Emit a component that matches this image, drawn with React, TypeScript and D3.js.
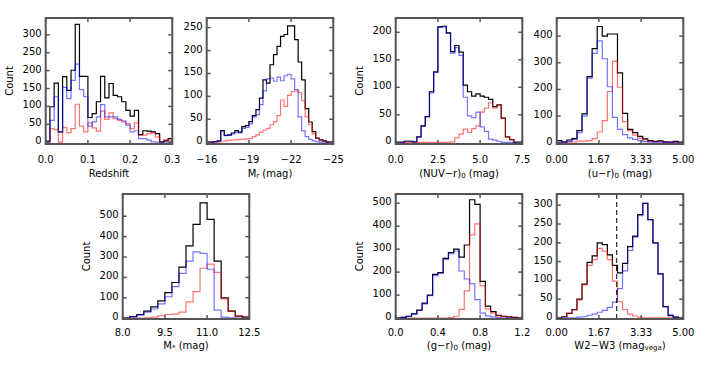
import React from 'react';
import * as d3 from 'd3';

// ---------- DATA ----------
// Panel 1: Redshift (bins of 0.01 from 0.0)
const zAll = [3, 99, 165, 29, 183, 145, 201, 329, 184, 184, 69, 80, 113, 184, 124, 164, 131, 127, 113, 89, 73, 89, 21, 32, 31, 29, 24, 1, 4, 10];
const zBlue = [1, 61, 127, 29, 153, 122, 173, 218, 147, 127, 45, 57, 71, 105, 71, 71, 71, 64, 60, 48, 29, 32, 10, 10, 6, 1, 0, 0, 0, 0];
const zRed = [0, 38, 35, 0, 41, 27, 38, 106, 45, 29, 54, 40, 31, 87, 64, 82, 66, 61, 57, 52, 38, 54, 20, 20, 24, 26, 15, 1, 7, 6];
const zTicks = [0, 0.1, 0.2, 0.3];
const zTickLabels = ['0.0', '0.1', '0.2', '0.3'];

// Panel 2: M_r (bins of 0.25 mag from -16 towards -25)
const mrAll = [0, 0, 1, 3, 25, 15, 16, 20, 25, 22, 34, 36, 45, 58, 71, 96, 136, 129, 169, 191, 209, 231, 235, 254, 254, 224, 175, 136, 73, 44, 23, 9, 5, 3, 0, 0];
const mrBlue = [0, 0, 1, 3, 24, 14, 15, 18, 22, 20, 30, 32, 40, 55, 60, 82, 112, 138, 140, 133, 142, 134, 145, 148, 138, 115, 55, 25, 12, 6, 3, 1, 0, 0, 0, 0];
const mrRed = [0, 0, 0, 0, 2, 3, 4, 5, 5, 6, 6, 7, 8, 12, 16, 22, 26, 30, 38, 45, 58, 92, 78, 102, 110, 112, 108, 90, 55, 38, 18, 8, 4, 2, 1, 0];
const mrTicks = [-16, -19, -22, -25];
const mrTickLabels = ['\u221216', '\u221219', '\u221222', '\u221225'];

// Panel 3: (NUV-r)_0 (bins of 0.25 mag)
const nuvAll = [0, 0, 2, 2, 1, 10, 30, 47, 92, 128, 210, 211, 199, 165, 176, 164, 104, 92, 84, 88, 84, 82, 78, 65, 68, 44, 10, 5, 0, 0];
const nuvBlue = [0, 0, 2, 2, 1, 10, 29, 46, 90, 127, 209, 210, 198, 162, 172, 158, 82, 48, 45, 55, 28, 20, 6, 4, 2, 0, 0, 0, 0, 0];
const nuvRed = [0, 0, 0, 0, 0, 0, 0, 0, 0, 0, 0, 0, 0, 1, 8, 15, 24, 18, 25, 30, 55, 62, 72, 62, 67, 44, 10, 5, 0, 0];
const nuvTicks = [0, 2.5, 5, 7.5];
const nuvTickLabels = ['0.0', '2.5', '5.0', '7.5'];

// Panel 4: (u-r)_0 (bins of 0.2 mag)
const urAll = [8, 3, 10, 15, 45, 108, 248, 353, 436, 400, 408, 408, 262, 110, 50, 38, 24, 14, 8, 5, 7, 3, 2, 5, 2];
const urBlue = [2, 0, 5, 12, 38, 100, 242, 335, 382, 315, 210, 95, 50, 30, 18, 12, 8, 4, 2, 2, 2, 1, 1, 1, 0];
const urRed = [0, 0, 2, 3, 6, 6, 8, 15, 40, 83, 192, 305, 208, 79, 45, 28, 16, 10, 5, 3, 4, 2, 1, 3, 1];
const urTicks = [0, 5 / 3, 10 / 3, 5];
const urTickLabels = ['0.00', '1.67', '3.33', '5.00'];

// Panel 5: M* (bins of 0.25 from 8.0)
const msAll = [0, 8, 18, 35, 55, 85, 125, 175, 250, 355, 460, 565, 485, 280, 100, 35, 10, 5];
const msBlue = [0, 8, 15, 30, 45, 70, 105, 155, 220, 280, 325, 318, 240, 40, 5, 2, 1, 0];
const msRed = [0, 0, 1, 2, 5, 12, 18, 20, 30, 80, 130, 245, 265, 225, 95, 35, 10, 5];
const msTicks = [8, 9.5, 11, 12.5];
const msTickLabels = ['8.0', '9.5', '11.0', '12.5'];

// Panel 6: (g-r)_0 (bins of 0.05 mag)
const grAll = [0, 3, 8, 18, 35, 65, 100, 190, 198, 260, 285, 300, 265, 318, 515, 495, 160, 52, 28, 12, 8, 5, 3, 1];
const grBlue = [0, 3, 8, 18, 33, 62, 98, 185, 195, 255, 280, 292, 205, 170, 150, 80, 22, 10, 5, 2, 1, 0, 0, 0];
const grRed = [0, 0, 0, 0, 0, 0, 0, 0, 0, 0, 2, 8, 38, 118, 362, 410, 140, 40, 22, 10, 7, 5, 3, 1];
const grTicks = [0, 0.4, 0.8, 1.2];
const grTickLabels = ['0.0', '0.4', '0.8', '1.2'];

// Panel 7: W2-W3 (bins of 0.2 mag)
const wAll = [0, 3, 12, 22, 50, 90, 148, 165, 200, 195, 168, 140, 120, 145, 190, 218, 275, 305, 262, 200, 117, 30, 6, 2, 0];
const wBlue = [0, 0, 0, 0, 2, 3, 7, 10, 15, 20, 28, 42, 78, 125, 180, 215, 272, 305, 262, 200, 117, 30, 8, 2, 0];
const wRed = [0, 3, 12, 22, 48, 88, 140, 155, 185, 178, 155, 98, 43, 22, 10, 5, 2, 0, 0, 0, 0, 0, 0, 0, 0];
const wTicks = [0, 5 / 3, 10 / 3, 5];
const wTickLabels = ['0.00', '1.67', '3.33', '5.00'];
const wCut = 2.37;

const yTicks50_300 = [0, 50, 100, 150, 200, 250, 300];
const yTicks50_250 = [0, 50, 100, 150, 200, 250];
const yTicks50_200 = [0, 50, 100, 150, 200];
const yTicks100_400 = [0, 100, 200, 300, 400];
const yTicks100_500 = [0, 100, 200, 300, 400, 500];

// ---------- LAYOUT ----------
type Seg = { t: string; sub?: boolean };
type Panel = {
  frame: [number, number, number, number];
  xDomain: [number, number];
  yDomain: [number, number];
  xTicks: number[];
  xTickLabels: string[];
  yTicks: number[];
  binStart: number;
  binWidth: number;
  all: number[];
  blue: number[];
  red: number[];
  title: Seg[];
  count: boolean;
  row: number;
  cut?: number;
};

const panels: Panel[] = [
  { frame: [45.7, 172.3, 18, 144], xDomain: [0, 0.3], yDomain: [-5, 347], xTicks: zTicks, xTickLabels: zTickLabels, yTicks: yTicks50_300, binStart: 0, binWidth: 0.01, all: zAll, blue: zBlue, red: zRed, title: [{ t: 'Redshift' }], count: true, row: 0 },
  { frame: [206.7, 333.3, 18, 144], xDomain: [-16, -25], yDomain: [-4, 271], xTicks: mrTicks, xTickLabels: mrTickLabels, yTicks: yTicks50_250, binStart: -16, binWidth: -0.25, all: mrAll, blue: mrBlue, red: mrRed, title: [{ t: 'M' }, { t: 'r', sub: true }, { t: ' (mag)' }], count: false, row: 0 },
  { frame: [395.7, 522.3, 18, 144], xDomain: [0, 7.5], yDomain: [-3, 226], xTicks: nuvTicks, xTickLabels: nuvTickLabels, yTicks: yTicks50_200, binStart: 0, binWidth: 0.25, all: nuvAll, blue: nuvBlue, red: nuvRed, title: [{ t: '(NUV\u2212r)' }, { t: '0', sub: true }, { t: ' (mag)' }], count: true, row: 0 },
  { frame: [556.7, 683.3, 18, 144], xDomain: [0, 5], yDomain: [-5, 468], xTicks: urTicks, xTickLabels: urTickLabels, yTicks: yTicks100_400, binStart: 0, binWidth: 0.2, all: urAll, blue: urBlue, red: urRed, title: [{ t: '(u\u2212r)' }, { t: '0', sub: true }, { t: ' (mag)' }], count: false, row: 0 },
  { frame: [122.7, 249.3, 194, 319], xDomain: [8, 12.5], yDomain: [-4, 609], xTicks: msTicks, xTickLabels: msTickLabels, yTicks: yTicks100_500, binStart: 8, binWidth: 0.25, all: msAll, blue: msBlue, red: msRed, title: [{ t: 'M' }, { t: '*', sub: true }, { t: ' (mag)' }], count: true, row: 1 },
  { frame: [395.7, 522.3, 194, 319], xDomain: [0, 1.2], yDomain: [-4, 540], xTicks: grTicks, xTickLabels: grTickLabels, yTicks: yTicks100_500, binStart: 0, binWidth: 0.05, all: grAll, blue: grBlue, red: grRed, title: [{ t: '(g\u2212r)' }, { t: '0', sub: true }, { t: ' (mag)' }], count: true, row: 1 },
  { frame: [556.7, 683.3, 194, 319], xDomain: [0, 5], yDomain: [-3, 330], xTicks: wTicks, xTickLabels: wTickLabels, yTicks: yTicks50_300, binStart: 0, binWidth: 0.2, all: wAll, blue: wBlue, red: wRed, title: [{ t: 'W2\u2212W3 (mag' }, { t: 'vega', sub: true }, { t: ')' }], count: false, row: 1, cut: wCut },
];

const FONT = 'DejaVu Sans';
const FRAME = '#555';
const tickLabelY = [159, 332];
const titleY = [173, 345];

function stepPath(values: number[], start: number, width: number, x: d3.ScaleLinear<number, number>, y: d3.ScaleLinear<number, number>) {
  const pts: [number, number][] = values.map((v, i) => [start + i * width, v]);
  pts.push([start + values.length * width, values[values.length - 1]]);
  const line = d3
    .line<[number, number]>()
    .x((d) => x(d[0]))
    .y((d) => y(d[1]))
    .curve(d3.curveStepAfter);
  return line(pts) || '';
}

function Title({ segs, x, y }: { segs: Seg[]; x: number; y: number }) {
  const out: React.ReactNode[] = [];
  let shifted = false;
  segs.forEach((s, i) => {
    if (s.sub) {
      out.push(
        <tspan key={i} dy={3} fontSize={7}>
          {s.t}
        </tspan>
      );
      shifted = true;
    } else {
      out.push(
        <tspan key={i} dy={shifted ? -3 : 0} fontSize={10}>
          {s.t}
        </tspan>
      );
      shifted = false;
    }
  });
  return (
    <text x={x} y={y} textAnchor="middle" dominantBaseline="central" fontFamily={FONT} fontSize={10} fill="#000">
      {out}
    </text>
  );
}

function PanelView({ p, idx }: { p: Panel; idx: number }) {
  const [x0, x1, y0, y1] = p.frame;
  const x = d3.scaleLinear().domain(p.xDomain).range([x0, x1]);
  const y = d3.scaleLinear().domain(p.yDomain).range([y1, y0]);
  const clipId = `clip${idx}`;
  const tl = 4;
  return (
    <g>
      <defs>
        <clipPath id={clipId}>
          <rect x={x0} y={y0} width={x1 - x0} height={y1 - y0} />
        </clipPath>
      </defs>
      <g clipPath={`url(#${clipId})`} fill="none">
        <path d={stepPath(p.all, p.binStart, p.binWidth, x, y)} stroke="#000" strokeWidth={1.2} />
        <path d={stepPath(p.red, p.binStart, p.binWidth, x, y)} stroke="rgba(255,0,0,0.55)" strokeWidth={1.2} />
        <path d={stepPath(p.blue, p.binStart, p.binWidth, x, y)} stroke="rgba(0,0,255,0.55)" strokeWidth={1.2} />
        {p.cut !== undefined && (
          <line x1={x(p.cut)} x2={x(p.cut)} y1={y0} y2={y1} stroke="#000" strokeWidth={1} strokeDasharray="5,3" />
        )}
      </g>
      {p.xTicks.map((t, i) => (
        <g key={`xt${i}`}>
          <line x1={x(t)} x2={x(t)} y1={y1} y2={y1 - tl} stroke={FRAME} strokeWidth={1.5} />
          <line x1={x(t)} x2={x(t)} y1={y0} y2={y0 + tl} stroke={FRAME} strokeWidth={1.5} />
          <text x={x(t)} y={tickLabelY[p.row]} textAnchor="middle" dominantBaseline="central" fontFamily={FONT} fontSize={10} fill="#000">
            {p.xTickLabels[i]}
          </text>
        </g>
      ))}
      {p.yTicks.map((t, i) => (
        <g key={`yt${i}`}>
          <line x1={x0} x2={x0 + tl} y1={y(t)} y2={y(t)} stroke={FRAME} strokeWidth={1.5} />
          <line x1={x1} x2={x1 - tl} y1={y(t)} y2={y(t)} stroke={FRAME} strokeWidth={1.5} />
          <text x={x0 - 4} y={y(t) - 1.5} textAnchor="end" dominantBaseline="central" fontFamily={FONT} fontSize={10} fill="#000">
            {t}
          </text>
        </g>
      ))}
      <rect x={x0} y={y0} width={x1 - x0} height={y1 - y0} fill="none" stroke={FRAME} strokeWidth={2} />
      <Title segs={p.title} x={(x0 + x1) / 2} y={titleY[p.row]} />
      {p.count && (
        <text
          transform={`translate(${x0 - 36.5},${(y0 + y1) / 2}) rotate(-90)`}
          textAnchor="middle"
          dominantBaseline="central"
          fontFamily={FONT}
          fontSize={10}
          fill="#000"
        >
          Count
        </text>
      )}
    </g>
  );
}

export default function App() {
  return (
    <svg
      width={713}
      height={375}
      viewBox="0 0 713 375"
      style={{ position: 'absolute', left: 0, top: 0, background: '#fff' }}
    >
      <rect x={0} y={0} width={713} height={375} fill="#fff" />
      {panels.map((p, i) => (
        <PanelView key={i} p={p} idx={i} />
      ))}
    </svg>
  );
}
